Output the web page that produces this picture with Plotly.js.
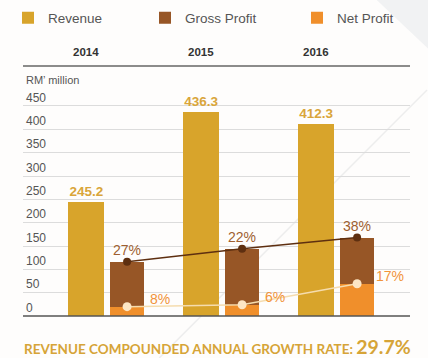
<!DOCTYPE html>
<html><head><meta charset="utf-8">
<script src="https://cdn.plot.ly/plotly-3.0.1.min.js"></script>
<style>html,body{margin:0;padding:0;background:#fefdfc;}#chart{width:428px;height:358px;}</style>
</head><body><div id="chart"></div>
<script>
// ---- data ----
var years = ['2014', '2015', '2016'];
var revenue = [245.2, 436.3, 412.3];
var grossProfit = [116, 144, 168];
var netProfit = [20, 24, 69];
var grossMargin = ['27%', '22%', '38%'];
var netMargin = ['8%', '6%', '17%'];
var yTicks = [0, 50, 100, 150, 200, 250, 300, 350, 400, 450];
var cagrText = '29.7%';

// ---- layout helpers ----
var idx = years.map(function (_, i) { return i; });
var revOff = -0.328, revW = 0.313, gpOff = 0.035, gpW = 0.296;
var revCenter = idx.map(function (i) { return i + revOff + revW / 2; });
var gpCenter = idx.map(function (i) { return i + gpOff + gpW / 2; });

var C_REV = '#d8a42b', C_GP = '#975626', C_NP = '#f08f2b';
var FONT = 'Liberation Sans, Arial, sans-serif';

var traces = [
  { type: 'bar', name: 'Revenue', legend: 'legend', x: idx, y: revenue, width: revW, offset: revOff,
    marker: { color: C_REV }, text: revenue.map(function (v) { return '<b>' + v.toFixed(1) + '</b>'; }),
    textposition: 'outside', constraintext: 'none', cliponaxis: false,
    textfont: { family: FONT, size: 13.5, color: '#d9a53a' }, hoverinfo: 'skip' },
  { type: 'bar', name: 'Gross Profit', legend: 'legend2', x: idx, y: grossProfit, width: gpW, offset: gpOff,
    marker: { color: C_GP }, hoverinfo: 'skip' },
  { type: 'bar', name: 'Net Profit', legend: 'legend3', x: idx, y: netProfit, width: gpW, offset: gpOff,
    marker: { color: C_NP }, hoverinfo: 'skip' },
  { type: 'scatter', mode: 'lines+markers', x: gpCenter, y: grossProfit, showlegend: false,
    line: { color: '#5e2f10', width: 1.5 }, marker: { color: '#5e2f10', size: 8 }, hoverinfo: 'skip' },
  { type: 'scatter', mode: 'lines+markers', x: gpCenter, y: netProfit, showlegend: false,
    line: { color: '#f5dcae', width: 1.5 }, marker: { color: '#fde6c4', size: 9 }, hoverinfo: 'skip' }
];

var ann = [];
years.forEach(function (y, i) {
  ann.push({ x: revCenter[i], xref: 'x', y: 1.056, yref: 'paper', text: '<b>' + y + '</b>', showarrow: false,
    font: { family: FONT, size: 11.5, color: '#333' }, xanchor: 'center', yanchor: 'middle' });
  ann.push({ x: gpCenter[i], y: grossProfit[i], text: grossMargin[i], showarrow: false, yshift: 12,
    font: { family: FONT, size: 14, color: '#9e5f30' }, xanchor: 'center', yanchor: 'middle' });
  ann.push({ x: gpCenter[i], y: netProfit[i], text: netMargin[i], showarrow: false, xshift: 33, yshift: 8,
    font: { family: FONT, size: 14, color: '#f1943a' }, xanchor: 'center', yanchor: 'middle' });
});
ann.push({ x: 0.003, xref: 'paper', y: 0.944, yref: 'paper', text: 'RM\u2019 million', showarrow: false,
  xanchor: 'left', yanchor: 'middle', font: { family: FONT, size: 11, color: '#555' } });
ann.push({ x: -0.003, xref: 'paper', y: -0.123, yref: 'paper', showarrow: false, xanchor: 'left', yanchor: 'middle',
  text: '<b>REVENUE COMPOUNDED ANNUAL GROWTH RATE: <span style="font-size:19.5px">' + cagrText + '</span></b>',
  font: { family: 'Lato, sans-serif', size: 13.5, color: '#d6a437' } });

function legendAt(px) {
  return { orientation: 'h', xref: 'container', yref: 'container', x: px / 428, xanchor: 'left',
    y: 1 - 18 / 358, yanchor: 'middle', font: { family: FONT, size: 13.5, color: '#555' },
    bgcolor: 'rgba(0,0,0,0)', borderwidth: 0 };
}

var layout = {
  width: 428, height: 358,
  margin: { l: 23, r: 18, t: 66, b: 42, autoexpand: false },
  paper_bgcolor: '#fefdfc', plot_bgcolor: '#fefdfc',
  barmode: 'overlay', bargap: 0,
  showlegend: true,
  legend: legendAt(8), legend2: legendAt(145), legend3: legendAt(297),
  xaxis: { range: [-0.722, 2.643], visible: false, fixedrange: true },
  yaxis: { range: [0, 535.7], tickvals: yTicks, ticktext: yTicks.map(String), ticklabelposition: 'inside top',
    showgrid: true, gridcolor: '#dcdcdc', gridwidth: 1, zeroline: false, showline: false, ticks: '',
    tickfont: { family: FONT, size: 12, color: '#555' }, fixedrange: true },
  shapes: [
    { type: 'path', xref: 'paper', yref: 'paper', layer: 'below', line: { width: 0 }, fillcolor: '#f1f2f3',
      path: 'M 0.914,1.264 L 1.06,1.264 L 1.06,1.05 Z' },
    { type: 'line', xref: 'paper', yref: 'paper', layer: 'below', x0: 1.044, y0: 0.904, x1: 0.352, y1: -0.168,
      line: { color: '#ededed', width: 1.5 } },
    { type: 'line', xref: 'paper', yref: 'paper', x0: 0, x1: 1, y0: 1, y1: 1, line: { color: '#666', width: 1.5 } },
    { type: 'line', xref: 'paper', yref: 'paper', x0: 0, x1: 1, y0: 0, y1: 0, line: { color: '#555', width: 1.5 } }
  ],
  annotations: ann
};

Plotly.newPlot('chart', traces, layout, { displayModeBar: false, staticPlot: true });
</script></body></html>
